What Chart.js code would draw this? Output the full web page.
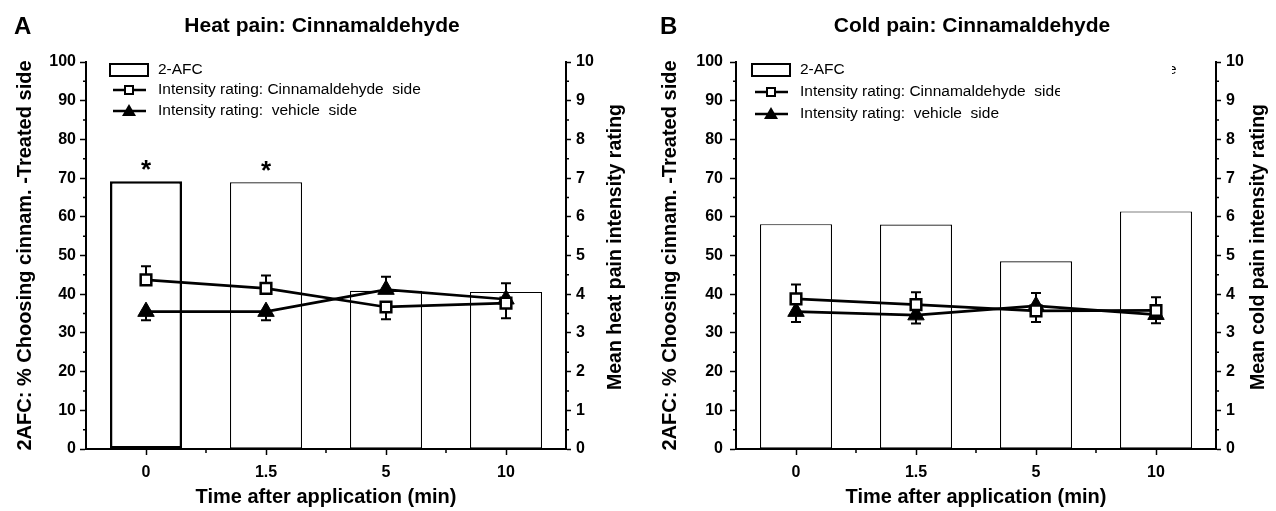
<!DOCTYPE html>
<html>
<head>
<meta charset="utf-8">
<script src="https://cdn.jsdelivr.net/npm/chart.js@4.4.0/dist/chart.umd.min.js"></script>
<style>
  html, body { margin: 0; padding: 0; background: #fff; }
  #wrap { position: relative; width: 1276px; height: 511px; overflow: hidden; }
  canvas { position: absolute; top: 0; }
</style>
</head>
<body>
<div id="wrap">
  <canvas id="panelA" width="640" height="511" style="left:0"></canvas>
  <canvas id="panelB" width="636" height="511" style="left:640px"></canvas>
</div>
<script>
const timeLabels = ['0', '1.5', '5', '10'];
const legendLabels = ['2-AFC', 'Intensity rating: Cinnamaldehyde  side', 'Intensity rating:  vehicle  side'];

// A - heat pain
const heatAfc = [69.2, 68.9, 40.9, 40.6];
const heatCinnam = [4.37, 4.15, 3.67, 3.77];
const heatCinnamErr = [4.72, 4.48, 3.35, 3.38];   // end of error bar
const heatVehicle = [3.55, 3.55, 4.12, 3.87];
const heatVehicleErr = [3.33, 3.33, 4.45, 4.28];
const heatStars = ['*', '*', '', ''];

// B - cold pain
const coldAfc = [58.1, 58.0, 48.5, 61.4];
const coldCinnam = [3.88, 3.73, 3.57, 3.58];
const coldCinnamErr = [4.25, 4.05, 3.28, 3.92];
const coldVehicle = [3.55, 3.46, 3.70, 3.47];
const coldVehicleErr = [3.28, 3.24, 4.03, 3.25];
const coldStars = ['', '', '', ''];

const FONT = "'Liberation Sans', Arial, sans-serif";

function decor(p) {
  return {
    id: 'decor' + p.letter,
    afterDatasetDraw(chart, args) {
      if (args.index !== 0) return;
      // error bars, over the bars but under the lines
      const c = chart.ctx, y2 = chart.scales.y2;
      c.save();
      c.strokeStyle = '#000';
      c.lineWidth = 2;
      [1, 2].forEach(i => {
        const ds = chart.data.datasets[i];
        chart.getDatasetMeta(i).data.forEach((pt, j) => {
          const ye = y2.getPixelForValue(ds.errTo[j]);
          c.beginPath();
          c.moveTo(pt.x, pt.y); c.lineTo(pt.x, ye);
          c.moveTo(pt.x - 5, ye); c.lineTo(pt.x + 5, ye);
          c.stroke();
        });
      });
      c.restore();
    },
    afterDraw(chart) {
      const c = chart.ctx, a = chart.chartArea;
      const y = chart.scales.y, y2 = chart.scales.y2;
      c.save();
      c.fillStyle = '#000';
      c.strokeStyle = '#000';

      // minor ticks
      c.lineWidth = 1.5;
      c.beginPath();
      for (let v = 5; v < 100; v += 10) {
        const py = y.getPixelForValue(v);
        c.moveTo(a.left - 3, py); c.lineTo(a.left, py);
      }
      for (let v = 0.5; v < 10; v += 1) {
        const py = y2.getPixelForValue(v);
        c.moveTo(a.right, py); c.lineTo(a.right + 3, py);
      }
      const w = (a.right - a.left) / timeLabels.length;
      for (let k = 1; k < timeLabels.length; k++) {
        c.moveTo(a.left + k * w, a.bottom); c.lineTo(a.left + k * w, a.bottom + 4);
      }
      c.stroke();

      // panel letter + title
      c.textBaseline = 'middle';
      c.textAlign = 'left';
      c.font = 'bold 24px ' + FONT;
      c.fillText(p.letter, p.letterX, 27);
      c.textAlign = 'center';
      c.font = 'bold 21px ' + FONT;
      c.fillText(p.title, (a.left + a.right) / 2 - 4, 26);

      // right axis title, reads bottom to top
      c.save();
      c.translate(p.rightTitleX, 247);
      c.rotate(-Math.PI / 2);
      c.font = 'bold 19.5px ' + FONT;
      c.fillText(p.rightTitle, 0, 0);
      c.restore();

      // stars
      const bars = chart.getDatasetMeta(0).data;
      c.font = 'bold 26px ' + FONT;
      c.textBaseline = 'alphabetic';
      p.stars.forEach((s, j) => {
        if (s) c.fillText(s, bars[j].x, bars[j].y - 3);
      });

      // legend
      const lx = p.legendX, rows = p.legendRows;
      c.textAlign = 'left';
      c.textBaseline = 'middle';
      c.font = '15.5px ' + FONT;
      c.lineWidth = 2;
      c.strokeRect(lx, rows[0] - 6, 38, 12);
      c.fillText(legendLabels[0], lx + 48, rows[0]);

      c.lineWidth = 2.5;
      c.beginPath(); c.moveTo(lx + 3, rows[1]); c.lineTo(lx + 36, rows[1]); c.stroke();
      c.fillStyle = '#fff';
      c.fillRect(lx + 15, rows[1] - 4, 8, 8);
      c.lineWidth = 2;
      c.strokeRect(lx + 15, rows[1] - 4, 8, 8);
      c.fillStyle = '#000';
      c.save();
      if (p.clipRow1) { c.beginPath(); c.rect(0, 0, p.clipRow1, 511); c.clip(); }
      c.fillText(legendLabels[1], lx + 48, rows[1]);
      c.restore();

      c.lineWidth = 2.5;
      c.beginPath(); c.moveTo(lx + 3, rows[2]); c.lineTo(lx + 36, rows[2]); c.stroke();
      c.beginPath();
      c.moveTo(lx + 19, rows[2] - 7); c.lineTo(lx + 26, rows[2] + 5); c.lineTo(lx + 12, rows[2] + 5);
      c.closePath(); c.fill();
      c.fillText(legendLabels[2], lx + 48, rows[2]);

      if (p.stray) {
        c.save();
        c.beginPath(); c.rect(p.stray[0] + 4, 0, 20, 511); c.clip();
        c.fillText('e', p.stray[0], p.stray[1]);
        c.restore();
      }
      c.restore();
    }
  };
}

function makePanel(id, p) {
  const tickFont = { family: FONT, size: 16, weight: 'bold' };
  return new Chart(document.getElementById(id), {
    data: {
      labels: timeLabels,
      datasets: [
        {
          type: 'bar', label: legendLabels[0], data: p.afc, yAxisID: 'y',
          backgroundColor: '#fff', borderColor: '#000', borderWidth: p.barBorder,
          borderSkipped: false, barPercentage: 0.6, categoryPercentage: 1, order: 3
        },
        {
          type: 'line', label: legendLabels[1], data: p.cinnam, errTo: p.cinnamErr, yAxisID: 'y2',
          borderColor: '#000', borderWidth: 2.7, tension: 0,
          pointStyle: 'rect', pointRadius: 7.5, pointBackgroundColor: '#fff',
          pointBorderColor: '#000', pointBorderWidth: 2.5, order: 1
        },
        {
          type: 'line', label: legendLabels[2], data: p.vehicle, errTo: p.vehicleErr, yAxisID: 'y2',
          borderColor: '#000', borderWidth: 2.7, tension: 0,
          pointStyle: 'triangle', pointRadius: 9.5, pointBackgroundColor: '#000',
          pointBorderColor: '#000', pointBorderWidth: 1, order: 2
        }
      ]
    },
    options: {
      responsive: false,
      animation: false,
      devicePixelRatio: 1,
      layout: { padding: { top: 62, left: 0, right: 0, bottom: 0 } },
      plugins: { legend: { display: false }, tooltip: { enabled: false } },
      scales: {
        x: {
          offset: true,
          grid: { drawOnChartArea: false, offset: false, tickLength: 6, tickWidth: 1.5, tickColor: '#000' },
          border: { color: '#000', width: 2 },
          ticks: { color: '#000', font: tickFont, padding: 8 },
          title: {
            display: true, text: 'Time after application (min)', color: '#000',
            font: { family: FONT, size: 20, weight: 'bold' }, padding: { top: 0, bottom: 2 }
          },
          afterFit(s) { s.height = 62; }
        },
        y: {
          position: 'left', min: 0, max: 100,
          grid: { drawOnChartArea: false, tickLength: 6, tickWidth: 1.5, tickColor: '#000' },
          border: { color: '#000', width: 2 },
          ticks: { stepSize: 10, color: '#000', font: tickFont, padding: p.leftTickPad },
          title: {
            display: true, text: '2AFC: % Choosing cinnam. -Treated side', color: '#000',
            font: { family: FONT, size: 20, weight: 'bold' }, padding: { top: p.leftTitlePad, bottom: 0 }
          },
          afterFit(s) { s.width = p.leftW; }
        },
        y2: {
          position: 'right', min: 0, max: 10,
          grid: { drawOnChartArea: false, tickLength: 5, tickWidth: 1.5, tickColor: '#000' },
          border: { color: '#000', width: 2 },
          ticks: { stepSize: 1, color: '#000', font: tickFont, padding: 5 },
          afterFit(s) { s.width = p.rightW; }
        }
      }
    },
    plugins: [decor(p)]
  });
}

makePanel('panelA', {
  letter: 'A', letterX: 14, title: 'Heat pain: Cinnamaldehyde',
  rightTitle: 'Mean heat pain intensity rating', rightTitleX: 616,
  afc: heatAfc, cinnam: heatCinnam, cinnamErr: heatCinnamErr,
  vehicle: heatVehicle, vehicleErr: heatVehicleErr, stars: heatStars,
  barBorder: [2.5, 1.2, 1.2, 1.2],
  leftW: 86, rightW: 74, leftTitlePad: 13, leftTickPad: 4,
  legendX: 110, legendRows: [70, 90, 111]
});

makePanel('panelB', {
  letter: 'B', letterX: 20, title: 'Cold pain: Cinnamaldehyde',
  rightTitle: 'Mean cold pain intensity rating', rightTitleX: 619,
  afc: coldAfc, cinnam: coldCinnam, cinnamErr: coldCinnamErr,
  vehicle: coldVehicle, vehicleErr: coldVehicleErr, stars: coldStars,
  barBorder: [1.2, 1.2, 1.2, 1.2],
  leftW: 96, rightW: 60, leftTitlePad: 18, leftTickPad: 7,
  legendX: 112, legendRows: [70, 92, 114],
  clipRow1: 420, stray: [528, 70]
});
</script>
</body>
</html>
